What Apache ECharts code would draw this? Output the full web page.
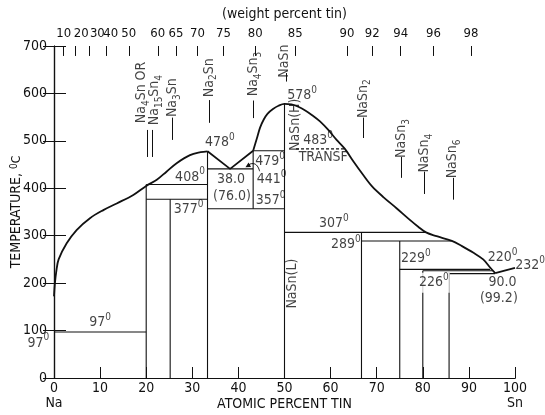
<!DOCTYPE html>
<html><head><meta charset="utf-8">
<script src="https://cdn.jsdelivr.net/npm/echarts@6/dist/echarts.min.js"></script>
<style>html,body{margin:0;padding:0;background:#fff}#c{width:545px;height:415px}</style>
</head><body><div id="c"></div>
<script>
// ---- data ----
const atomicTicks = [0,10,20,30,40,50,60,70,80,90,100];
const temperatureTicks = [0,100,200,300,400,500,600,700];
const weightTickLabels = [10,20,30,40,50,60,65,70,75,80,85,90,92,94,96,98];

const liquidusNaSide = [[0,172],[0.2,200],[0.5,225],[1.0,250],[2.75,284],[4.9,312],[7.8,337],[10.7,354],[13.6,368],[17.2,386],[20,405],[22.3,418],[24.4,435],[26.6,453],[29.5,470],[31.8,476],[33.3,478]];
const liquidusEutectic38 = [[33.3,478],[38.2,441],[43.2,479]];
const liquidusNaSnSide = [[43.2,479],[44.0,505],[44.7,528],[45.5,545],[46.3,557],[47.5,567],[48.7,574],[50,578],[51.5,577],[53,572],[54.5,564],[56,554],[57.7,541],[59.5,523],[61.3,502],[63.1,483],[65,456],[67,429],[69,404],[71.5,381],[74.3,358],[77,335],[79,319],[80.7,307],[83,299],[86.3,289],[88.5,278],[91,264],[93.1,250],[94.6,233],[95.7,221]];
const liquidusSnSide = [[95.7,221],[100,232]];

// horizontal invariant lines: [temperature, fromAtomic, toAtomic]
const isotherms = [[97,0,20],[408,20,33.3],[377,20,33.3],[441,33.3,43.2],[357,33.3,50],[479,43.2,50],[307,50,80.7],[289,66.7,86.3],[229,75,94.6],[226,80,95.2],[220,85.7,95.7]];
const transformation = [[483,52.5,63.1]];
// vertical compound lines: [atomic, fromTemp, toTemp]
const compounds = [[20,0,408],[25.2,0,377],[33.3,0,478],[43.2,357,479],[50,0,578],[66.7,0,307],[75,0,289],[80,0,226],[85.7,0,222]];

// arrows: [atomic, fromTemp, toTemp]
const compoundArrows = [[20.3,523,466],[21.3,523,466],[25.6,549,502],[33.6,586,538],[43.3,585,548],[50.4,643,625],[67,549,506],[75.3,466,422],[80.3,435,388],[86.5,422,376]];
const arrow441 = [[44.6,436],[43.9,449],[42.9,452],[42.0,447]];

// compound names (rotated): [text, atomic, temp]
const compoundNames = [
  ['Na{b|4}Sn OR',18.9,602],['Na{b|15}Sn{b|4}',21.7,586],['Na{b|3}Sn',25.6,591],['Na{b|2}Sn',33.6,633],
  ['Na{b|4}Sn{b|3}',43.3,641],['NaSn',49.9,668],['NaSn(H)',52.3,534],['NaSn(L)',51.7,199],
  ['NaSn{b|2}',67,589],['NaSn{b|3}',75.3,505],['NaSn{b|4}',80.3,474],['NaSn{b|6}',86.5,462]
];
// temperature labels: [degrees, atomic, temp]
const tempLabels = [[97,10,117],[408,29.5,424],[377,29.2,355],[478,36,496],[479,46.9,457],[441,47.2,419],[357,47,375],[578,53.8,595],[483,57.3,502],[307,60.7,326],[289,63.3,282],[229,78.5,252],[220,97.3,254],[232,103.3,237],[97,-3.4,74]];
const maskedTempLabels = [[226,82.4,201]];
const plainLabels = [['TRANSF',58.4,465],['38.0',38.4,418],['(76.0)',38.6,384],['90.0',97.3,201],['(99.2)',96.5,168]];

// ---- chart ----
const FONT = "'DejaVu Sans Condensed','Liberation Sans Narrow','Arial Narrow',sans-serif";
const INK = '#111';
const MNa = 22.99, MSn = 118.71;
const wtToAt = w => 100*(w/MSn)/((w/MSn)+((100-w)/MNa));
const weightPositions = weightTickLabels.map(wtToAt);
// nudges (px) for the crowded first top labels, as in the original print
const topLabelNudge = {20:6, 30:8, 40:4};
const TOP_TICK_DEPTH = 21; // degrees (about 10 px)

const rich = {
  n:{fontSize:14,fontFamily:FONT,color:INK,lineHeight:20},
  s:{fontSize:10,fontFamily:FONT,color:INK,verticalAlign:'top'},
  b:{fontSize:10,fontFamily:FONT,color:INK,verticalAlign:'bottom'}
};
const deg = v => `{n|${v}}{s|0}`;
const subText = t => t.split(/(\{b\|[^}]*\})/).filter(Boolean).map(p => p.startsWith('{b|') ? p : `{n|${p}}`).join('');

const series = [];
const lineBase = {type:'line',xAxisIndex:0,yAxisIndex:0,showSymbol:false,symbol:'none',silent:true,animation:false,z:3};
series.push(Object.assign({},lineBase,{data:liquidusNaSide,smooth:0.35,lineStyle:{color:INK,width:1.8}}));
series.push(Object.assign({},lineBase,{data:liquidusEutectic38,lineStyle:{color:INK,width:1.8}}));
series.push(Object.assign({},lineBase,{data:liquidusNaSnSide,smooth:0.35,lineStyle:{color:INK,width:1.8}}));
series.push(Object.assign({},lineBase,{data:liquidusSnSide,lineStyle:{color:INK,width:1.8}}));
isotherms.forEach(([t,a,b]) => series.push(Object.assign({},lineBase,{data:[[a,t],[b,t]],lineStyle:{color:INK,width:1.1}})));
transformation.forEach(([t,a,b]) => series.push(Object.assign({},lineBase,{data:[[a,t],[b,t]],lineStyle:{color:INK,width:1.1,type:[3,2]}})));
compounds.forEach(([x,a,b]) => series.push(Object.assign({},lineBase,{data:[[x,a],[x,b]],lineStyle:{color:INK,width:1.1}})));
series.push(Object.assign({},lineBase,{smooth:0.5,lineStyle:{color:INK,width:1},showSymbol:true,
  data:arrow441.map((p,i)=> i===arrow441.length-1 ? {value:p,symbol:'triangle',symbolSize:5,symbolRotate:120,itemStyle:{color:INK}} : {value:p,symbol:'none'})}));
// arrows
series.push({type:'line',xAxisIndex:0,yAxisIndex:0,data:[],silent:true,animation:false,
  markLine:{silent:true,animation:false,symbol:['none','arrow'],symbolSize:[0,6],label:{show:false},
    lineStyle:{color:INK,width:1,type:'solid'},
    data:compoundArrows.map(([x,a,b])=>[{coord:[x,a]},{coord:[x,b]}])}});
// weight-percent ticks hanging from the top axis
series.push({type:'line',xAxisIndex:0,yAxisIndex:0,data:[],silent:true,animation:false,
  markLine:{silent:true,animation:false,symbol:['none','none'],label:{show:false},
    lineStyle:{color:INK,width:1,type:'solid'},
    data:weightPositions.map(x=>[{coord:[x,700]},{coord:[x,700-TOP_TICK_DEPTH]}])}});
// labels
const labelData = [];
compoundNames.forEach(([t,x,y]) => labelData.push({value:[x,y],label:{show:true,position:'inside',rotate:90,formatter:subText(t),rich}}));
tempLabels.forEach(([v,x,y]) => labelData.push({value:[x,y],label:{show:true,position:'inside',formatter:deg(v),rich}}));
maskedTempLabels.forEach(([v,x,y]) => labelData.push({value:[x,y],label:{show:true,position:'inside',formatter:deg(v),rich,backgroundColor:'#fff',padding:[0,1]}}));
plainLabels.forEach(([t,x,y]) => labelData.push({value:[x,y],label:{show:true,position:'inside',formatter:`{n|${t}}`,rich}}));
series.push({type:'scatter',xAxisIndex:0,yAxisIndex:0,symbolSize:0,clip:false,silent:true,animation:false,z:5,data:labelData});

const axisLine = {show:true,lineStyle:{color:INK,width:1.2}};
const topRich = {t:{fontSize:13,fontFamily:FONT,color:INK}};
Object.keys(topLabelNudge).forEach(w => {
  topRich['t'+w] = {fontSize:13,fontFamily:FONT,color:INK,padding:[0,0,0,2*topLabelNudge[w]]};
});
const option = {
  backgroundColor:'#fff',
  animation:false,
  grid:{left:54,right:30,top:46,bottom:37,outerBoundsMode:'none',containLabel:false},
  xAxis:[
    {type:'value',position:'bottom',min:0,max:100,interval:10,
     axisLine,splitLine:{show:false},
     axisTick:{show:true,inside:true,length:11,lineStyle:{color:INK,width:1}},
     axisLabel:{color:INK,fontFamily:FONT,fontSize:14,margin:3,lineHeight:15,
       formatter:v=> v===0?'0\nNa': v===100?'100\nSn': String(v)},
     name:'ATOMIC PERCENT TIN',nameLocation:'middle',nameGap:19,nameMoveOverlap:false,
     nameTextStyle:{color:INK,fontFamily:FONT,fontSize:14}},
    {type:'value',position:'top',min:0,max:100,
     axisLine,splitLine:{show:false},
     axisTick:{show:false},
     axisLabel:{color:INK,fontFamily:FONT,fontSize:13,margin:6,customValues:weightPositions,hideOverlap:false,
       rich:topRich,
       formatter:v=>{
         const i=weightPositions.findIndex(p=>Math.abs(p-v)<1e-6);
         if(i<0) return '';
         const w=weightTickLabels[i];
         return topLabelNudge[w] ? `{t${w}|${w}}` : `{t|${w}}`;
       }},
     name:'(weight percent tin)',nameLocation:'middle',nameGap:25,nameMoveOverlap:false,
     nameTextStyle:{color:INK,fontFamily:FONT,fontSize:14}}
  ],
  yAxis:[
    {type:'value',position:'left',min:0,max:700,interval:100,
     axisLine,splitLine:{show:false},
     axisTick:{show:true,inside:true,length:12,lineStyle:{color:INK,width:1}},
     axisLabel:{color:INK,fontFamily:FONT,fontSize:14,margin:7},
     name:'TEMPERATURE, {s|0}{b|C}',nameLocation:'middle',nameGap:31,nameRotate:90,nameMoveOverlap:false,
     nameTextStyle:{color:INK,fontFamily:FONT,fontSize:14,rich:{s:{fontSize:10,fontFamily:FONT,color:INK,verticalAlign:'top'},b:{fontSize:12,fontFamily:FONT,color:INK,verticalAlign:'bottom'}}}},
    {type:'value',position:'right',min:0,max:700,interval:100,
     axisLine,splitLine:{show:false},
     axisTick:{show:true,inside:true,length:11,lineStyle:{color:INK,width:1}},
     axisLabel:{show:false}}
  ],
  series
};
const chart = echarts.init(document.getElementById('c'),null,{renderer:'canvas'});
chart.setOption(option);
</script></body></html>
